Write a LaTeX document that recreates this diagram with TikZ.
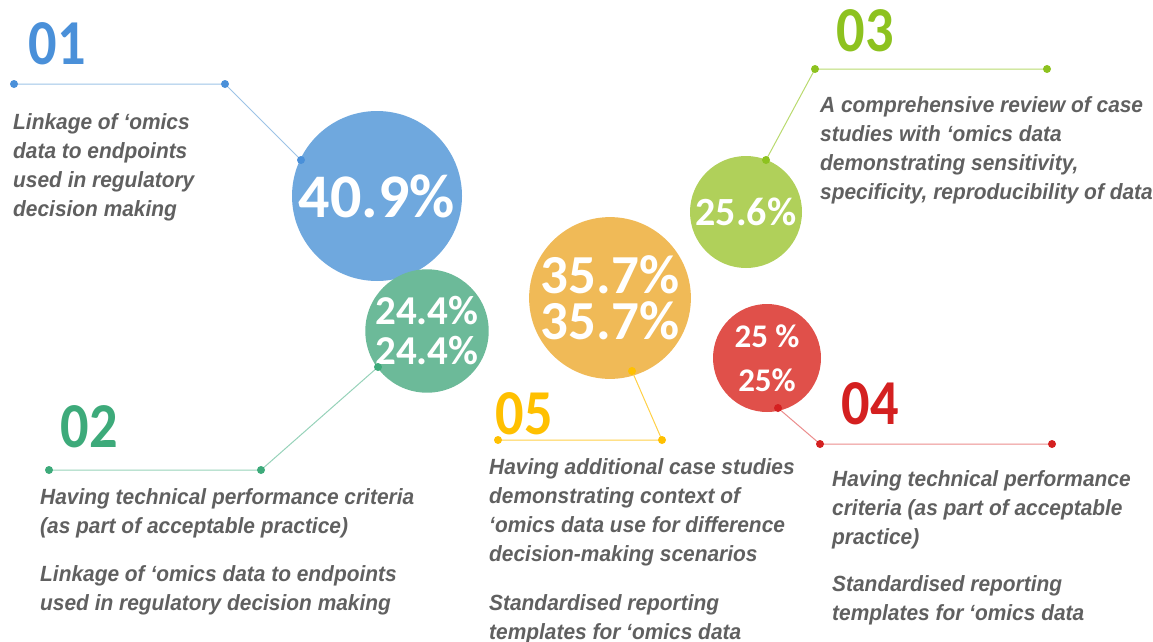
\documentclass[tikz,border=0pt]{standalone}
\usepackage{fontspec}
\setmainfont{Liberation Sans}
\newfontfamily\pctfont{Carlito}
\newfontfamily\numfont[FakeStretch=0.88]{Carlito}
\newfontfamily\descfont[FakeStretch=0.95]{Liberation Sans}
\usetikzlibrary{positioning}
\definecolor{blueno}{RGB}{74,144,217}
\definecolor{bluefill}{RGB}{111,168,222}
\definecolor{blueline}{RGB}{157,195,230}
\definecolor{greenno}{RGB}{61,170,122}
\definecolor{greenfill}{RGB}{108,186,153}
\definecolor{greenline}{RGB}{150,210,185}
\definecolor{limeno}{RGB}{141,194,31}
\definecolor{limefill}{RGB}{176,208,90}
\definecolor{limeline}{RGB}{185,218,110}
\definecolor{goldno}{RGB}{255,192,0}
\definecolor{goldfill}{RGB}{240,186,87}
\definecolor{goldline}{RGB}{255,208,70}
\definecolor{redno}{RGB}{212,32,32}
\definecolor{redfill}{RGB}{224,80,74}
\definecolor{redline}{RGB}{235,140,140}
\definecolor{textgrey}{RGB}{96,96,96}
\tikzset{
  bubble/.style={circle, inner sep=0pt, text=white, align=center},
  numlbl/.style={inner sep=0pt, font=\numfont\bfseries\fontsize{64}{64}\selectfont},
  desc/.style={anchor=base west, inner sep=0pt, align=left, text=textgrey,
    font=\descfont\bfseries\itshape\fontsize{22}{29}\selectfont},
  link/.style={line width=1pt}
}

\begin{document}
\begin{tikzpicture}[x=1pt, y=-1pt]
  \useasboundingbox (0,0) rectangle (1153,642);

  % Circles
  \node[bubble, fill=bluefill, minimum size=170pt, font=\pctfont\bfseries\fontsize{62}{62}\selectfont] (c01) at (377,196) {40.9\%};
  \node[bubble, fill=greenfill, minimum size=122pt, font=\pctfont\bfseries\fontsize{41}{40}\selectfont] (c02) at (427,331) {24.4\%\\24.4\%};
  \node[bubble, fill=limefill, minimum size=112pt, font=\pctfont\bfseries\fontsize{40}{40}\selectfont] (c03) at (746,212) {25.6\%};
  \node[bubble, fill=goldfill, minimum size=158pt, font=\pctfont\bfseries\fontsize{55}{46}\selectfont] (c05) at (610,298) {35.7\%\\35.7\%};
  \node[bubble, fill=redfill, minimum size=108pt, font=\pctfont\bfseries\fontsize{33}{44}\selectfont] (c04) at (767,358) {25 \%\\25\%};

  % Connector points
  \coordinate (a01) at (14,84);   \coordinate (b01) at (225,84);   \coordinate (e01) at (301,160);
  \coordinate (a02) at (49,470);  \coordinate (b02) at (261,470);  \coordinate (e02) at (378,367);
  \coordinate (a03) at (1047,69); \coordinate (b03) at (815,69);   \coordinate (e03) at (766,160);
  \coordinate (a05) at (498,440); \coordinate (b05) at (662,440);  \coordinate (e05) at (632,371);
  \coordinate (a04) at (1052,444);\coordinate (b04) at (820,444);  \coordinate (e04) at (778,408);

  % Connectors
  \draw[link, blueline] (a01) -- (b01) -- (e01);
  \draw[link, greenline] (a02) -- (b02) -- (e02);
  \draw[link, limeline] (a03) -- (b03) -- (e03);
  \draw[link, goldline] (a05) -- (b05) -- (e05);
  \draw[link, redline] (a04) -- (b04) -- (e04);
  \foreach \n/\c in {01/blueno, 02/greenno, 03/limeno, 05/goldno, 04/redno} {
    \foreach \p in {a,b,e}
      \fill[\c] (\p\n) circle (4pt);
  }

  % Numbers
  \node[numlbl, text=blueno] (n01) at (57,44) {01};
  \node[numlbl, text=greenno] (n02) at (89,427) {02};
  \node[numlbl, text=limeno] (n03) at (865,31) {03};
  \node[numlbl, text=goldno] (n05) at (524,414) {05};
  \node[numlbl, text=redno] (n04) at (870,404) {04};

  % Descriptions (placed at the baseline of their last line)
  \node[desc] (t01) at (13,216) {Linkage of ‘omics\\data to endpoints\\used in regulatory\\decision making};
  \node[desc] (t02) at (40,610) {Having technical performance criteria\\(as part of acceptable practice)\\[19pt]Linkage of ‘omics data to endpoints\\used in regulatory decision making};
  \node[desc] (t03) at (820,199) {A comprehensive review of case\\studies with ‘omics data\\demonstrating sensitivity,\\specificity, reproducibility of data};
  \node[desc] (t05) at (489,639) {Having additional case studies\\demonstrating context of\\‘omics data use for difference\\decision-making scenarios\\[20pt]Standardised reporting\\templates for ‘omics data};
  \node[desc] (t04) at (832,620) {Having technical performance\\criteria (as part of acceptable\\practice)\\[18pt]Standardised reporting\\templates for ‘omics data};
\end{tikzpicture}
\end{document}
